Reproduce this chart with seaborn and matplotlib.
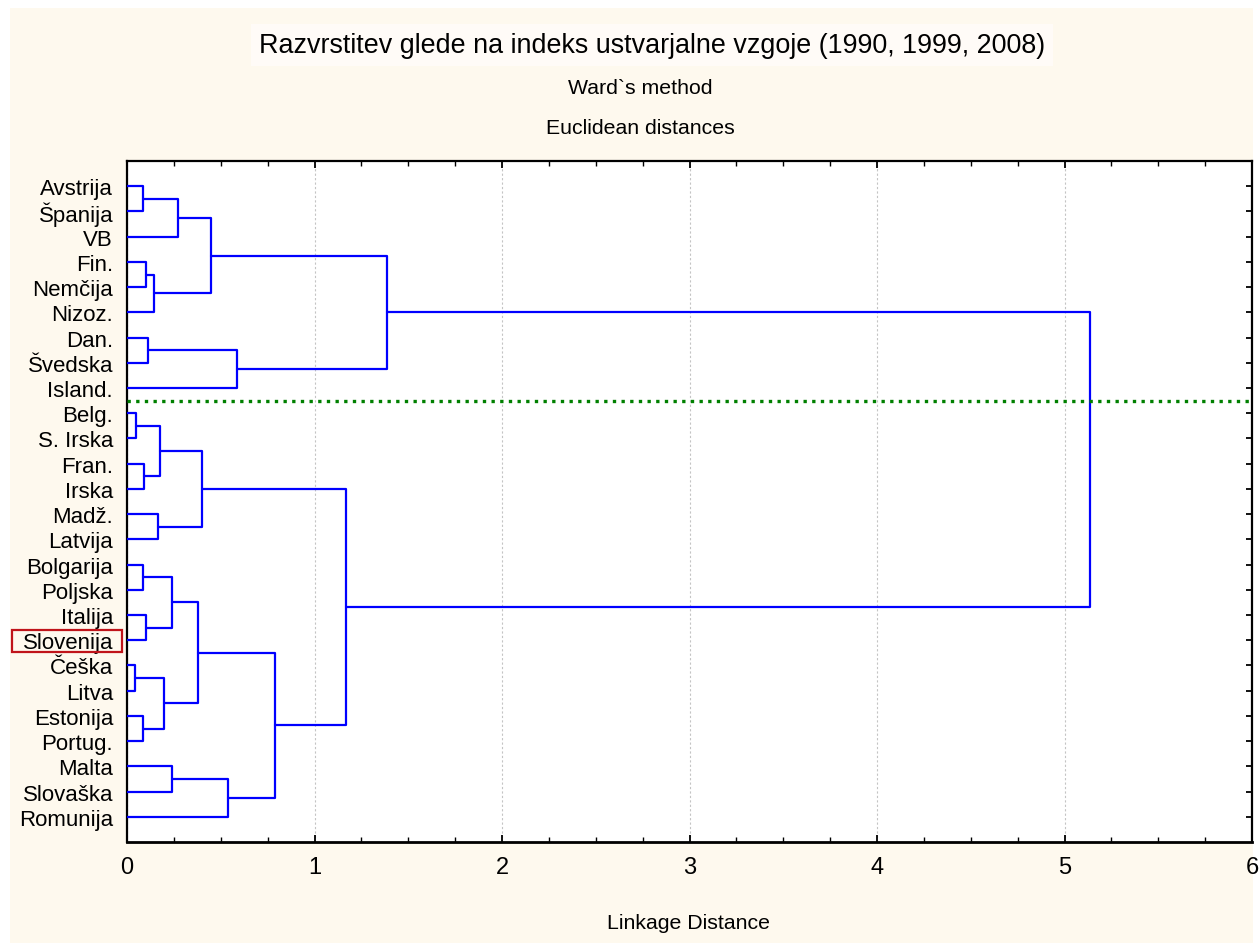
import matplotlib
matplotlib.use("Agg")
import matplotlib.pyplot as plt
from matplotlib.patches import Rectangle
from matplotlib.ticker import MultipleLocator
import numpy as np
import pandas as pd
import seaborn as sns

# ---------------- data ----------------
leaves = ["Avstrija", "Španija", "VB", "Fin.", "Nemčija", "Nizoz.", "Dan.", "Švedska",
          "Island.", "Belg.", "S. Irska", "Fran.", "Irska", "Madž.", "Latvija",
          "Bolgarija", "Poljska", "Italija", "Slovenija", "Češka", "Litva",
          "Estonija", "Portug.", "Malta", "Slovaška", "Romunija"]

# merges: cluster index 26+k joins merge_a[k] and merge_b[k] at merge_h[k]
merge_a = [0, 26, 3, 28, 27, 6, 31, 30, 9, 11, 34, 13, 36, 15, 17, 39, 19, 21, 42, 41, 23, 46, 45, 38, 33]
merge_b = [1, 2, 4, 5, 29, 7, 8, 32, 10, 12, 35, 14, 37, 16, 18, 40, 20, 22, 43, 44, 24, 25, 47, 48, 49]
merge_h = [0.083, 0.274, 0.103, 0.146, 0.450, 0.114, 0.587, 1.385,
           0.048, 0.092, 0.178, 0.167, 0.400, 0.083, 0.103, 0.240,
           0.041, 0.083, 0.197, 0.379, 0.240, 0.537, 0.788, 1.166, 5.136]

x_ticks = [0, 1, 2, 3, 4, 5, 6]
highlight = "Slovenija"
title = "Razvrstitev glede na indeks ustvarjalne vzgoje (1990, 1999, 2008)"
subtitle1 = "Ward`s method"
subtitle2 = "Euclidean distances"
xlabel = "Linkage Distance"

# ---------------- build dendrogram segments ----------------
n = len(leaves)
node_y = {i: i + 1.0 for i in range(n)}
node_h = {i: 0.0 for i in range(n)}
rows = []
for k, (a, b, h) in enumerate(zip(merge_a, merge_b, merge_h)):
    ya, yb = node_y[a], node_y[b]
    pts = [(node_h[a], ya), (h, ya), (h, yb), (node_h[b], yb)]
    for j, (xx, yy) in enumerate(pts):
        rows.append({"link": k, "order": j, "x": xx, "y": yy})
    node_y[n + k] = (ya + yb) / 2.0
    node_h[n + k] = h
df = pd.DataFrame(rows)

# ---------------- style ----------------
sns.set_style("white")
plt.rcParams["font.family"] = ["Liberation Sans", "DejaVu Sans"]
for key in ["text.color", "xtick.color", "ytick.color", "axes.labelcolor"]:
    plt.rcParams[key] = "black"

W, H = 1260, 945
fig = plt.figure(figsize=(W / 100, H / 100), dpi=100)
fig.patch.set_facecolor("white")
cream = "#FEF9EE"
fig.patches.append(Rectangle((10 / W, 1 - 944 / H), (1253 - 10) / W, (944 - 9) / H,
                             transform=fig.transFigure, facecolor=cream,
                             edgecolor="none", zorder=-10))

ax = fig.add_axes([127 / W, 1 - 843 / H, (1252 - 127) / W, (843 - 162) / H])
ax.set_zorder(1)
ax.set_facecolor("white")

sns.lineplot(data=df, x="x", y="y", units="link", estimator=None, sort=False,
             color="#0000FF", linewidth=1.6, ax=ax, legend=False, zorder=3)

ax.axhline(9.5, color="#008000", linewidth=2.4, linestyle=(0, (1, 1.6)), zorder=4)

ax.set_xlim(x_ticks[0], x_ticks[-1])
ax.set_ylim(n + 1, 0)
ax.set_xticks(x_ticks)
ax.set_xticklabels([str(t) for t in x_ticks])
ax.xaxis.set_minor_locator(MultipleLocator(0.25))
ax.set_yticks(np.arange(1, n + 1))
ax.set_yticklabels(leaves)
ax.set_xlabel("")
ax.set_ylabel("")

ax.grid(False)
ax.xaxis.grid(True, which="major", color="#c4c4c4", linestyle=(0, (2, 2)), linewidth=0.8)
ax.set_axisbelow(True)

for s in ax.spines.values():
    s.set_visible(True)
    s.set_color("black")
    s.set_linewidth(1.6)
ax.spines["bottom"].set_linewidth(2.0)

ax.tick_params(axis="x", which="major", direction="in", length=5, width=1.3,
               top=True, bottom=True, labelsize=17, pad=10)
ax.tick_params(axis="x", which="minor", direction="in", length=3.5, width=1.0,
               top=True, bottom=True)
ax.tick_params(axis="y", which="major", direction="in", length=4.5, width=1.3,
               left=True, right=True, labelsize=16, pad=10)

# highlight box around the highlighted leaf label
fig.patches.append(Rectangle((12 / W, 1 - 653 / H), 110 / W, 22 / H,
                             transform=fig.transFigure, facecolor="none",
                             edgecolor="#C0141A", linewidth=1.6, zorder=5))

fig.text(652 / W, 1 - 46 / H, title, ha="center", va="center", fontsize=19.4,
         bbox=dict(facecolor="#FFFBF7", edgecolor="none", pad=6))
fig.text(640 / W, 1 - 89 / H, subtitle1, ha="center", va="center", fontsize=15.3)
fig.text(640 / W, 1 - 129 / H, subtitle2, ha="center", va="center", fontsize=15.3)
fig.text(689 / W, 1 - 924 / H, xlabel, ha="center", va="center", fontsize=15.3)

fig.savefig("out.png", dpi=100, facecolor=fig.get_facecolor())
